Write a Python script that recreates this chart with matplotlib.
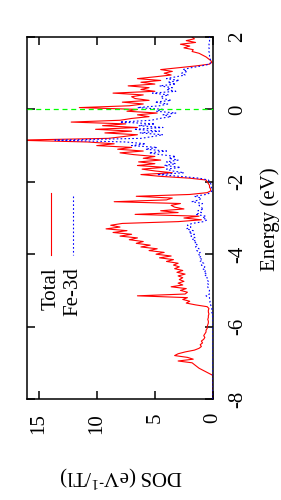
import numpy as np
import matplotlib
matplotlib.use("Agg")
import matplotlib.pyplot as plt

plt.rcParams['font.family'] = ['Liberation Serif', 'DejaVu Serif']
plt.rcParams['mathtext.fontset'] = 'custom'
plt.rcParams['mathtext.rm'] = 'Liberation Serif'
plt.rcParams['mathtext.it'] = 'Liberation Serif:italic'
plt.rcParams['axes.unicode_minus'] = False

# Energy sampling grid (eV), 0.05 eV steps from -8 to 2
energy = np.round(np.arange(-8.0, 2.0001, 0.05), 2)

total_dos = [
    0, 0, 0, 0, 0, 0, 0, 0, 0, 0, 0, 0, 0, 0,
    0.3, 0.6, 0.9, 1.2, 1.4, 1.6, 1.8, 3.0, 1.7, 2.2,
    3.3, 3.0, 2.4, 1.6, 1.2, 1.0, 1.1, 0.9, 1.0, 0.8,
    0.7, 0.8, 0.7, 0.6, 0.6, 0.5, 0.5, 0.45, 0.4, 0.4,
    0.45, 0.4, 0.4, 0.35, 0.4, 0.4, 0.35, 0.5, 1.5, 2.3,
    2.0, 2.6, 2.2, 6.5, 2.4, 2.2, 2.8, 2.3, 3.6, 2.6,
    3.0, 2.5, 2.9, 2.6, 3.0, 2.4, 3.1, 2.6, 3.3, 2.9,
    3.4, 3.0, 4.0, 3.4, 4.6, 3.6, 4.9, 4.2, 5.5, 4.8,
    6.2, 5.4, 6.6, 6.0, 7.2, 6.5, 8.0, 7.0, 8.6, 7.4,
    9.2, 8.0, 8.8, 7.8, 3.0, 1.0, 2.5, 1.2, 6.7, 3.0,
    4.5, 2.5, 3.3, 3.6, 2.8, 8.5, 4.0, 3.5, 6.6, 2.0,
    0.5, 0.2, 0.2, 0.3, 0.3, 0.4, 0.5, 0.6, 2.0, 4.5,
    6.2, 3.5, 5.0, 6.1, 4.2, 6.5, 5.0, 6.4, 4.5, 6.0,
    5.0, 6.8, 8.0, 6.0, 8.2, 7.0, 10.0, 8.5, 10.8, 17.0,
    9.0, 7.7, 6.5, 9.3, 7.0, 10.1, 6.5, 9.5, 7.5, 12.2,
    8.0, 7.0, 5.5, 6.5, 4.8, 7.4, 6.5, 11.5, 7.2, 6.0,
    7.8, 5.5, 6.7, 7.0, 6.0, 8.6, 5.0, 6.2, 5.5, 7.3,
    5.0, 6.2, 4.5, 6.5, 5.0, 3.6, 4.2, 3.5, 4.5, 3.0,
    1.5, 0.3, 0.1, 0.2, 0.4, 0.6, 0.9, 1.2, 1.8, 1.7,
    2.5, 2.0, 2.8, 1.5, 2.3, 1.6, 1.8,
]

fe3d_dos = [
    0, 0, 0, 0, 0, 0, 0, 0, 0, 0, 0, 0, 0, 0,
    0, 0, 0, 0, 0, 0, 0, 0, 0, 0, 0, 0, 0, 0,
    0, 0, 0, 0, 0, 0, 0, 0, 0, 0, 0, 0, 0, 0,
    0, 0, 0, 0,
    0.05, 0.05, 0.1, 0.1, 0.1, 0.15, 0.2, 0.3, 0.25, 0.3,
    0.3, 0.6, 0.3, 0.35, 0.3, 0.4, 0.45, 0.35, 0.5, 0.4,
    0.55, 0.5, 0.7, 0.5, 0.8, 0.6, 0.9, 0.7, 1.0, 0.8,
    1.1, 0.9, 1.2, 1.0, 1.3, 1.1, 1.4, 1.2, 1.5, 1.3,
    1.6, 1.4, 1.8, 1.5, 1.9, 1.6, 2.1, 1.7, 2.3, 1.9,
    2.2, 1.8, 0.8, 0.5, 0.9, 0.6, 1.5, 1.0, 1.3, 0.8,
    1.1, 1.2, 0.9, 1.8, 1.2, 1.0, 1.6, 0.6, 0.2, 0.1,
    0.1, 0.15, 0.15, 0.2, 0.3, 0.4, 1.2, 2.8, 4.8, 2.5,
    3.5, 4.0, 2.8, 4.2, 3.2, 4.0, 3.0, 3.8, 3.2, 4.5,
    5.5, 4.0, 5.8, 4.8, 7.0, 5.8, 7.5, 13.6, 6.2, 5.2,
    4.3, 6.3, 4.6, 6.8, 4.3, 6.4, 5.0, 8.0, 5.3, 4.6,
    3.6, 4.3, 3.2, 4.9, 4.2, 6.5, 4.6, 3.9, 5.0, 3.6,
    4.3, 4.5, 3.8, 5.2, 3.2, 4.0, 3.5, 4.6, 3.2, 3.9,
    2.9, 4.0, 3.2, 2.4, 2.7, 2.2, 2.6, 1.9, 1.0, 0.3,
    0.2, 0.2, 0.25, 0.3, 0.3, 0.3, 0.35, 0.3, 0.35, 0.3,
    0.35, 0.3, 0.3, 0.3, 0.3,
]

energy_ticks = [-8, -6, -4, -2, 0, 2]
energy_labels = ['-8', '-6', '-4', '-2', '0', '2']
dos_ticks = [15, 10, 5, 0]
dos_labels = ['15', '10', '5', '0']
series_names = ['Total', 'Fe-3d']
fermi_level = 0.0

W, H = 281, 500
fig = plt.figure(figsize=(W / 100, H / 100), dpi=100)
x0, x1, ytop, ybot = 27, 213, 37, 399
ax = fig.add_axes([x0 / W, 1 - ybot / H, (x1 - x0) / W, (ybot - ytop) / H])

ax.plot(total_dos, energy, color='#ff0000', lw=0.8, zorder=2)
ax.plot(fe3d_dos, energy, color='#0000ff', lw=0.8, ls=(0, (1.5, 2.0)), zorder=3)
ax.axhline(fermi_level, color='#00ff00', lw=0.9, ls=(0, (4, 3)), zorder=4)

ax.set_xlim(16, 0)
ax.set_ylim(-8, 2)

ax.set_yticks(energy_ticks)
ax.set_yticklabels(energy_labels)
ax.set_xticks(dos_ticks)
ax.set_xticklabels(dos_labels)

ax.yaxis.tick_right()
ax.tick_params(axis='y', which='both', direction='in', left=True, right=True,
               labelleft=False, labelright=True, length=6, width=1.1,
               labelsize=15, pad=11, labelrotation=90)
ax.tick_params(axis='x', which='both', direction='in', top=True, bottom=True,
               length=6, width=1.1, labelsize=15, pad=10, labelrotation=90)
for lab in ax.get_yticklabels():
    lab.set_ha('left')
    lab.set_va('center')
for lab in ax.get_xticklabels():
    lab.set_ha('center')
    lab.set_va('top')
for sp in ax.spines.values():
    sp.set_linewidth(1.1)

# Legend (rotated, drawn manually)
def ax_xy(px, py):
    return (px - x0) / (x1 - x0), (ybot - py) / (ybot - ytop)

lx, ly1 = ax_xy(51, 193)
_, ly2 = ax_xy(51, 255)
ax.plot([lx, lx], [ly1, ly2], transform=ax.transAxes, color='#ff0000', lw=0.8, clip_on=False)
bx, by1 = ax_xy(73, 196)
_, by2 = ax_xy(73, 255)
ax.plot([bx, bx], [by1, by2], transform=ax.transAxes, color='#0000ff', lw=0.8,
        ls=(0, (1.5, 2.0)), clip_on=False)
_, ty = ax_xy(51, 267)
ax.text(lx, ty, series_names[0], transform=ax.transAxes, rotation=90,
        ha='center', va='top', fontsize=15)
ax.text(bx, ty, series_names[1], transform=ax.transAxes, rotation=90,
        ha='center', va='top', fontsize=15)

fig.text(270 / W, 1 - 219 / H, 'Energy (eV)', rotation=90, ha='center', va='center', fontsize=15)
fig.text(121 / W, 1 - 477 / H, 'DOS (eV$^{\\text{-1}}$/Tl)', rotation=180,
         ha='center', va='center', fontsize=15)

fig.savefig('out.png', dpi=100)
